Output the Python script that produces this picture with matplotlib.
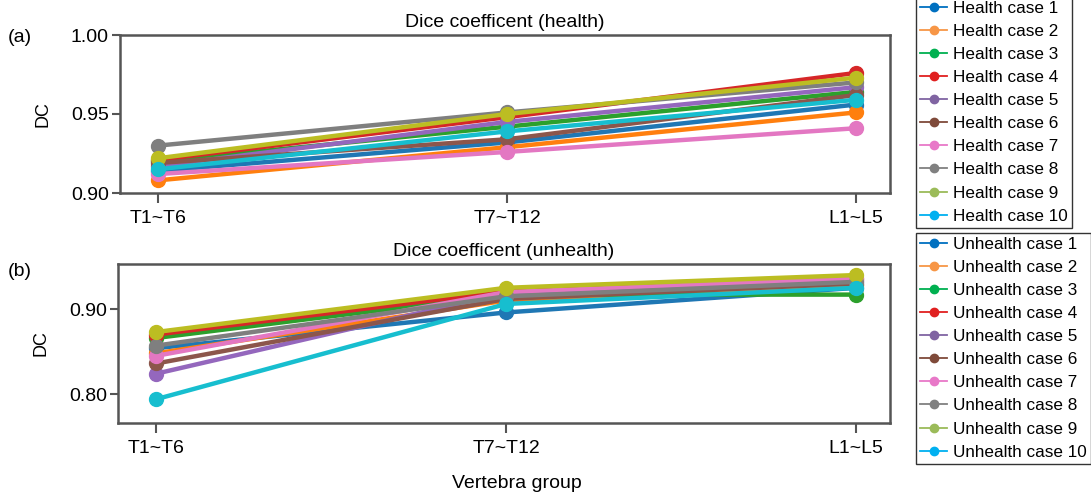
import matplotlib.pyplot as plt
from matplotlib.lines import Line2D

plt.rcParams['font.family'] = ['Liberation Sans', 'DejaVu Sans']

groups = ["T1~T6", "T7~T12", "L1~L5"]

# Dice coefficient, healthy cases 1..10 (T1~T6, T7~T12, L1~L5)
health = [
    [0.914, 0.932, 0.956],
    [0.908, 0.929, 0.951],
    [0.920, 0.942, 0.964],
    [0.921, 0.948, 0.976],
    [0.917, 0.945, 0.967],
    [0.919, 0.934, 0.962],
    [0.912, 0.926, 0.941],
    [0.930, 0.951, 0.970],
    [0.922, 0.950, 0.973],
    [0.915, 0.939, 0.959],
]

# Dice coefficient, unhealthy cases 1..10
unhealth = [
    [0.854, 0.896, 0.925],
    [0.848, 0.910, 0.928],
    [0.866, 0.917, 0.917],
    [0.870, 0.921, 0.935],
    [0.824, 0.919, 0.933],
    [0.836, 0.912, 0.930],
    [0.845, 0.920, 0.936],
    [0.857, 0.915, 0.932],
    [0.873, 0.925, 0.940],
    [0.794, 0.906, 0.925],
]

line_colors = plt.cm.tab10.colors
legend_colors = ["#0070C0", "#F79646", "#00B050", "#E02020", "#8064A2",
                 "#7F4A3A", "#E878C8", "#808080", "#9BBB59", "#00B0F0"]

W, H = 1091, 497
fig = plt.figure(figsize=(W / 100, H / 100), dpi=100)
ax1 = fig.add_axes([120 / W, 1 - 193 / H, 770 / W, 158 / H])
ax2 = fig.add_axes([118 / W, 1 - 423 / H, 772 / W, 159 / H])

x = range(len(groups))
panels = [
    (ax1, health, "Dice coefficent (health)", (0.90, 1.00), [0.90, 0.95, 1.00], "Health case", 1 + 3 / H),
    (ax2, unhealth, "Dice coefficent (unhealth)", (0.766, 0.953), [0.80, 0.90], "Unhealth case", 1 - 233 / H),
]
for ax, data, title, ylim, yticks, prefix, top in panels:
    for i, vals in enumerate(data):
        ax.plot(x, vals, marker='o', color=line_colors[i], lw=3.2, ms=10)
    ax.set_xlim(-0.109, 2.097)
    ax.set_ylim(*ylim)
    ax.set_yticks(yticks)
    ax.set_yticklabels([f"{t:.2f}" for t in yticks])
    ax.set_xticks(list(x))
    ax.set_xticklabels(groups)
    ax.set_title(title, fontsize=14, pad=6)
    ax.set_ylabel("DC", fontsize=13, labelpad=14)
    ax.tick_params(axis='both', labelsize=14, direction='out', width=1.5, color='#555555')
    ax.tick_params(axis='x', length=7, pad=5)
    ax.tick_params(axis='y', length=6, pad=2)
    for s in ax.spines.values():
        s.set_color('#555555')
        s.set_linewidth(1.8)

    handles = [Line2D([0], [0], color=legend_colors[i], marker='o', lw=1.3, ms=6)
               for i in range(10)]
    labels = [f"{prefix} {i + 1}" for i in range(10)]
    leg = fig.legend(handles, labels, loc='upper left', bbox_to_anchor=(916 / W, top),
                     fontsize=12.3, frameon=True, fancybox=False, handlelength=1.55,
                     handletextpad=0.35, labelspacing=0.47, borderpad=0.25, borderaxespad=0)
    leg.get_frame().set_edgecolor('black')
    leg.get_frame().set_linewidth(1.0)

fig.text(517 / W, 1 - 483 / H, "Vertebra group", fontsize=14, ha='center', va='center')

fig.text(8 / W, 1 - 37 / H, "(a)", fontsize=14, va='center')
fig.text(8 / W, 1 - 271 / H, "(b)", fontsize=14, va='center')

fig.savefig("out.png", dpi=100)
